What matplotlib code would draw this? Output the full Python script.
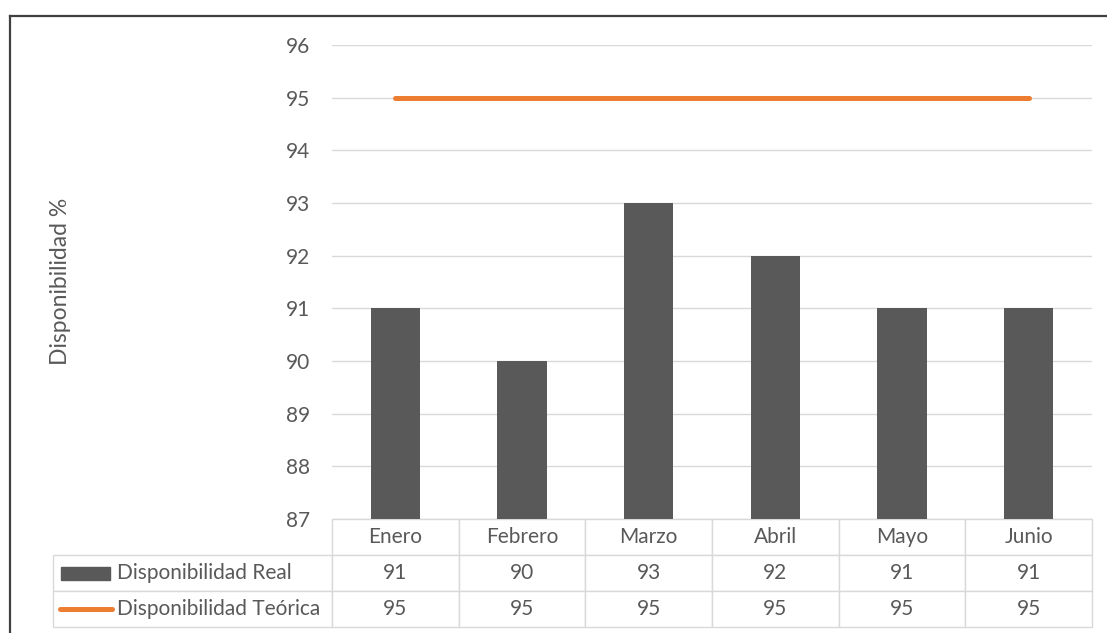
import numpy as np
import matplotlib
matplotlib.use('Agg')
import matplotlib.pyplot as plt
from matplotlib.table import Table
from matplotlib.patches import Rectangle
from matplotlib.lines import Line2D

plt.rcParams['font.family'] = ['Lato', 'DejaVu Sans']

meses = ['Enero', 'Febrero', 'Marzo', 'Abril', 'Mayo', 'Junio']
real = [91, 90, 93, 92, 91, 91]
teorica = [95, 95, 95, 95, 95, 95]
series = ['Disponibilidad Real', 'Disponibilidad Teórica']

gris = '#595959'
naranja = '#ED7D31'
borde = '#d9d9d9'
fs = 15
W, H = 1107, 633

fig = plt.figure(figsize=(W / 100, H / 100), dpi=100)
ax = fig.add_axes([332 / W, 1 - 519 / H, 760 / W, 474 / H])

x = np.arange(len(meses))
ax.bar(x, real, width=0.39, color=gris, zorder=2)
ax.plot(x, teorica, color=naranja, lw=3.6, solid_capstyle='round', zorder=3)

ax.set_xlim(-0.5, len(meses) - 0.5)
ax.set_ylim(87, 96)
ax.set_yticks(range(87, 97))
ax.set_xticks([])
ax.yaxis.grid(True, color=borde, lw=1)
ax.set_axisbelow(True)
ax.tick_params(axis='y', length=0, pad=16, labelsize=fs, labelcolor=gris)
for s in ax.spines.values():
    s.set_visible(False)

fig.text(61 / W, 1 - 281 / H, 'Disponibilidad %', rotation=90, ha='center', va='center',
         fontsize=16.5, color=gris)

# data table below the axes
def ax_x(px):
    return (px - 332) / 760

def ax_y(py):
    return (519 - py) / 474

tab = Table(ax, bbox=[ax_x(53), ax_y(627), ax_x(1092) - ax_x(53), ax_y(519) - ax_y(627)])
w0, w1, h = 279, 760 / 6, 1
for j, m in enumerate(meses):
    tab.add_cell(0, j + 1, w1, h, text=m, loc='center')
for i, vals in enumerate([real, teorica]):
    tab.add_cell(i + 1, 0, w0, h, text='', loc='left')
    for j, v in enumerate(vals):
        tab.add_cell(i + 1, j + 1, w1, h, text=str(v), loc='center')
tab.auto_set_font_size(False)
tab.set_fontsize(fs)
for cell in tab.get_celld().values():
    cell.set_edgecolor(borde)
    cell.set_linewidth(1)
    cell.get_text().set_color(gris)
ax.add_table(tab)

# legend keys in the row label cells
ax.add_patch(Rectangle((ax_x(61), ax_y(580)), ax_x(110) - ax_x(61), ax_y(567) - ax_y(580),
                       color=gris, clip_on=False, transform=ax.transAxes))
ax.add_line(Line2D([ax_x(60), ax_x(112)], [ax_y(609), ax_y(609)], color=naranja, lw=3.6,
                   solid_capstyle='round', clip_on=False, transform=ax.transAxes))
for i, s in enumerate(series):
    ax.text(ax_x(117), ax_y(573 + 36 * i), s, transform=ax.transAxes, ha='left', va='center',
            fontsize=fs, color=gris)

# frame around the figure (top and left)
fig.add_artist(Line2D([10 / W, 1], [1 - 16 / H, 1 - 16 / H], color='#404040', lw=1.6))
fig.add_artist(Line2D([10 / W, 10 / W], [0, 1 - 16 / H], color='#404040', lw=1.6))

fig.savefig('out.png', dpi=100, facecolor='white')
